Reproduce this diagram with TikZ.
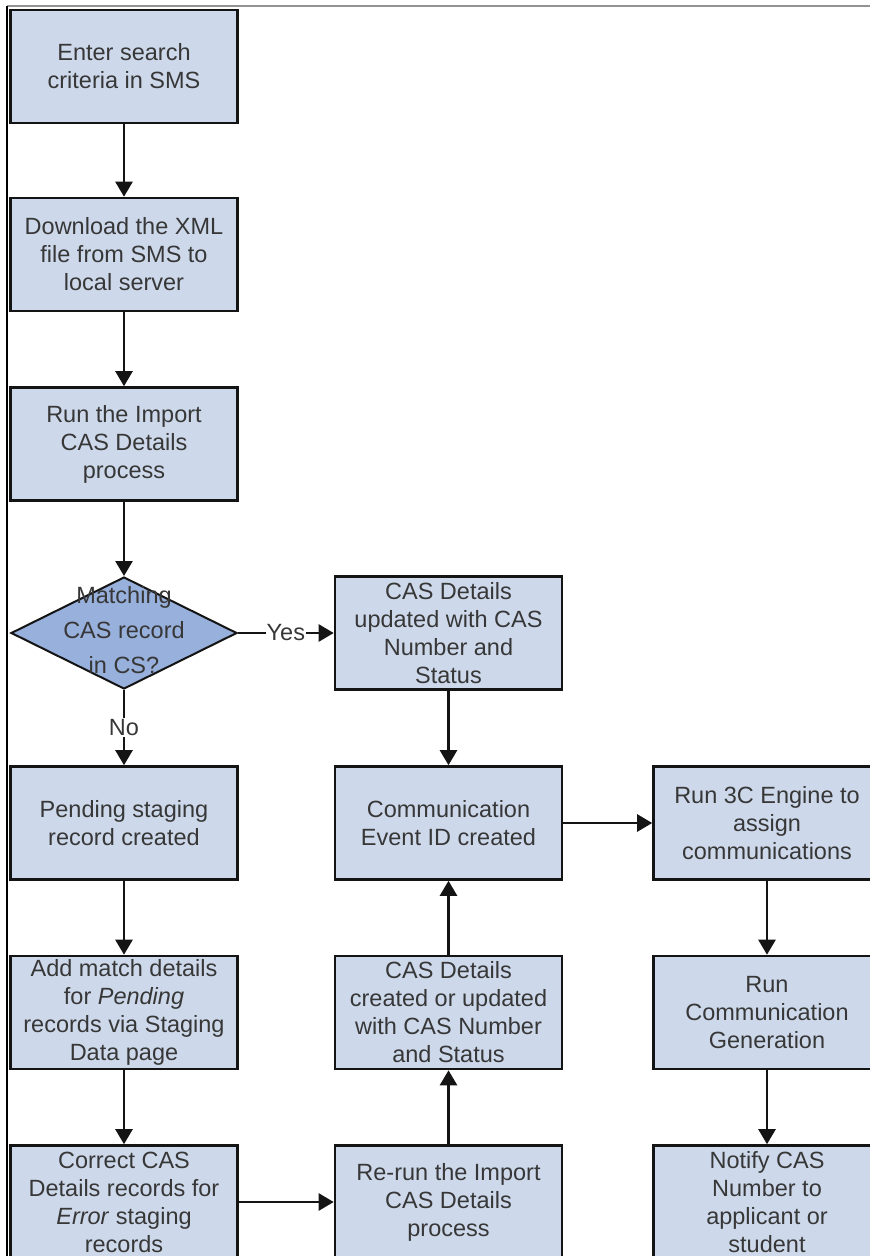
\documentclass[tikz,border=0pt]{standalone}
\usepackage{fontspec}
\setmainfont{Liberation Sans}
\usetikzlibrary{shapes.geometric,arrows.meta}
\definecolor{boxblue}{RGB}{205,217,235}
\definecolor{diablue}{RGB}{152,176,220}
\definecolor{txtgray}{RGB}{55,55,55}
\definecolor{linedark}{RGB}{20,20,20}
\tikzset{
  stepbox/.style={rectangle, draw=linedark, line width=2.6pt, fill=boxblue,
    minimum width=227pt, minimum height=113pt, inner sep=0pt, align=center,
    text=txtgray, font=\fontsize{23.5}{28}\selectfont},
  decision/.style={diamond, draw=linedark, line width=2pt, fill=diablue,
    minimum width=226pt, minimum height=112pt, inner sep=0pt},
  dtext/.style={align=center, text=txtgray, font=\fontsize{23.5}{35}\selectfont, inner sep=0pt},
  flow/.style={draw=linedark, line width=2.5pt, -{Triangle[width=17pt,length=15pt]}},
  lbl/.style={fill=white, inner sep=1pt, text=txtgray, font=\fontsize{23.5}{28}\selectfont},
}
\begin{document}
\begin{tikzpicture}[x=1pt,y=-1pt]
\useasboundingbox (0,0) rectangle (870,1256);
\clip (0,0) rectangle (870,1256);
\fill[white] (0,0) rectangle (870,1256);
% frame lines
\coordinate (tl) at (7,6);
\coordinate (tr) at (870,6);
\coordinate (bl) at (7,1256);
\draw[gray!85, line width=1.5pt] (tl) -- (tr);
\draw[black, line width=1.5pt] (tl) -- (bl);
% column 1
\node[stepbox] (b1) at (124,66.5) {Enter search\\criteria in SMS};
\node[stepbox] (b2) at (124,254.5) {Download the XML\\file from SMS to\\local server};
\node[stepbox] (b3) at (124,444) {Run the Import\\CAS Details\\process};
\node[decision] (dia) at (124,633) {};
\node[dtext] (diat) at (124,630) {Matching\\CAS record\\in CS?};
\node[stepbox] (pend) at (124,823) {Pending staging\\record created};
\node[stepbox] (addm) at (124,1012.5) {Add match details\\for \emph{Pending}\\records via Staging\\Data page};
\node[stepbox] (corr) at (124,1202) {Correct CAS\\Details records for\\\emph{Error} staging\\records};
% column 2
\node[stepbox] (upd) at (448.5,633) {CAS Details\\updated with CAS\\Number and\\Status};
\node[stepbox] (comm) at (448.5,823) {Communication\\Event ID created};
\node[stepbox] (crt) at (448.5,1012.5) {CAS Details\\created or updated\\with CAS Number\\and Status};
\node[stepbox] (rerun) at (448.5,1202) {Re-run the Import\\CAS Details\\process};
% column 3
\node[stepbox] (eng) at (767,823) {Run 3C Engine to\\assign\\communications};
\node[stepbox] (gen) at (767,1012.5) {Run\\Communication\\Generation};
\node[stepbox] (notif) at (767,1202) {Notify CAS\\Number to\\applicant or\\student};
% connectors
\draw[flow] (b1) -- (b2);
\draw[flow] (b2) -- (b3);
\draw[flow] (b3) -- (dia);
\draw[flow] (dia.east) -- node[lbl] {Yes} (upd.west);
\draw[flow] (dia.south) -- node[lbl] {No} (pend.north);
\draw[flow] (pend) -- (addm);
\draw[flow] (addm) -- (corr);
\draw[flow] (corr.east |- rerun.west) -- (rerun.west);
\draw[flow] (rerun) -- (crt);
\draw[flow] (crt) -- (comm);
\draw[flow] (upd) -- (comm);
\draw[flow] (comm.east) -- (eng.west);
\draw[flow] (eng) -- (gen);
\draw[flow] (gen) -- (notif);
\end{tikzpicture}
\end{document}
